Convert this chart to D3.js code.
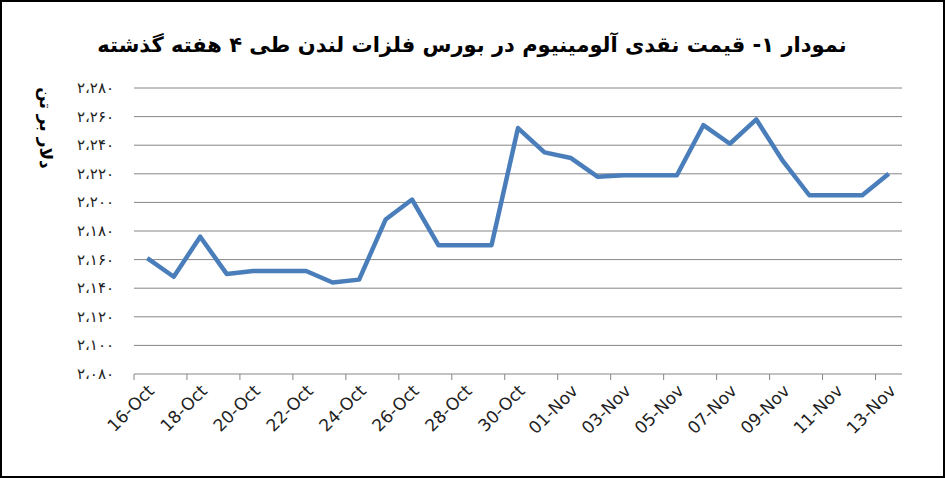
<!DOCTYPE html>
<html><head><meta charset="utf-8">
<script src="https://cdn.jsdelivr.net/npm/d3@7"></script>
<style>body{margin:0;background:#fff}text{font-family:"DejaVu Sans",sans-serif}</style>
</head><body><svg id="c" width="945" height="478"></svg>
<script>
// daily dates and aluminium cash price (USD/t)
var dates = ["16-Oct","17-Oct","18-Oct","19-Oct","20-Oct","21-Oct","22-Oct","23-Oct","24-Oct","25-Oct","26-Oct","27-Oct","28-Oct","29-Oct","30-Oct","31-Oct",
  "01-Nov","02-Nov","03-Nov","04-Nov","05-Nov","06-Nov","07-Nov","08-Nov","09-Nov","10-Nov","11-Nov","12-Nov","13-Nov"];
var prices = [2161,2148,2176,2150,2152,2152,2152,2144,2146,2188,2202,2170,2170,2170,2252,2235,
  2231,2218,2219,2219,2219,2254,2241,2258,2229,2205,2205,2205,2220];
var yTicks = [2080,2100,2120,2140,2160,2180,2200,2220,2240,2260,2280];
var title = "نمودار ۱- قیمت نقدی آلومینیوم در بورس فلزات لندن طی ۴ هفته گذشته";
var yTitle = "دلار بر تن";

var svg = d3.select("#c");
svg.append("rect").attr("x",1).attr("y",1).attr("width",943).attr("height",476)
  .attr("fill","#fff").attr("stroke","#000").attr("stroke-width",2);

var x = d3.scaleBand().domain(dates).range([134,902]);
var y = d3.scaleLinear().domain([2080,2280]).range([374,88]);

function fa(v){
  var s = d3.format(",")(v).replace(/,/g,"،");
  return s.replace(/[0-9]/g,function(c){return "۰۱۲۳۴۵۶۷۸۹"[+c];});
}

svg.append("g").selectAll("line").data(yTicks).enter().append("line")
  .attr("x1",134).attr("x2",902).attr("y1",d=>y(d)).attr("y2",d=>y(d))
  .attr("stroke","#868686").attr("stroke-width",1);
svg.append("g").selectAll("text").data(yTicks).enter().append("text")
  .attr("x",114).attr("y",d=>y(d)+5).attr("text-anchor","end")
  .attr("font-size",15).attr("fill","#222").text(fa);

svg.append("g").selectAll("line").data(dates.filter((d,i)=>i%2==0)).enter().append("line")
  .attr("x1",d=>x(d)).attr("x2",d=>x(d)).attr("y1",374).attr("y2",380)
  .attr("stroke","#868686");
svg.append("g").selectAll("text").data(dates.filter((d,i)=>i%2==0)).enter().append("text")
  .attr("transform",d=>"translate("+(x(d)+x.bandwidth()/2+8)+",392) rotate(-45)")
  .attr("text-anchor","end").attr("font-size",17).attr("fill","#222").text(d=>d);

var line = d3.line().x((d,i)=>x(dates[i])+x.bandwidth()/2).y(d=>y(d));
svg.append("path").datum(prices).attr("d",line).attr("fill","none")
  .attr("stroke","#4a7ebb").attr("stroke-width",4.5).attr("stroke-linejoin","round");

svg.append("text").attr("x",472).attr("y",52).attr("text-anchor","middle")
  .attr("font-size",21).attr("font-weight","bold").attr("direction","rtl").text(title);
svg.append("text").attr("transform","translate(40,128) rotate(90)")
  .attr("text-anchor","middle").attr("font-size",17).attr("font-weight","bold").text(yTitle);
</script></body></html>
